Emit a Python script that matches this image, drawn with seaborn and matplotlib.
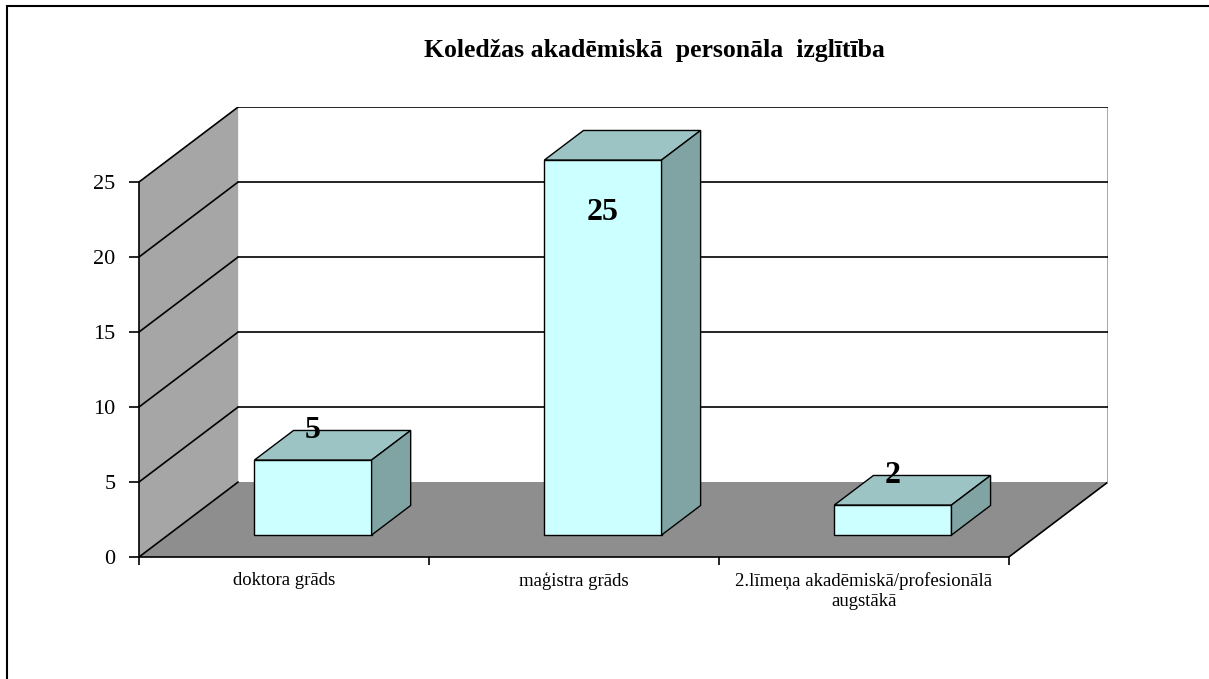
import numpy as np
import pandas as pd
import matplotlib
matplotlib.use('Agg')
import matplotlib.pyplot as plt
import matplotlib.transforms as mtransforms
from matplotlib.patches import Polygon, Rectangle
import seaborn as sns

# data
categories = ['doktora grāds', 'maģistra grāds',
              '2.līmeņa akadēmiskā/profesionālā\naugstākā']
values = [5, 25, 2]
y_ticks = [0, 5, 10, 15, 20, 25]
title = 'Koledžas akadēmiskā  personāla  izglītība'

# fake 3D geometry (data units)
DX, DY = 0.342, 5.0      # full depth of floor / side wall
FRONT = 0.293            # bar front position along the depth
DEPTH = 0.394            # bar depth as share of full depth
BAR_W = 0.404

FRONT_C = '#ccffff'
TOP_C = '#9cc4c4'
SIDE_C = '#80a4a4'
FLOOR_C = '#8e8e8e'
WALL_C = '#a6a6a6'

W, H = 1209, 679
sns.set_style('white')
plt.rcParams['font.family'] = ['Liberation Serif', 'DejaVu Serif']
plt.rcParams['text.color'] = 'black'
plt.rcParams['xtick.color'] = 'black'
plt.rcParams['ytick.color'] = 'black'

fig = plt.figure(figsize=(W / 100, H / 100), dpi=100)
ax = fig.add_axes([139 / W, 1 - 557 / H, (1108 - 139) / W, (557 - 107) / H])

df = pd.DataFrame({'kategorija': categories, 'skaits': values})
sns.barplot(data=df, x='kategorija', y='skaits', ax=ax, width=BAR_W,
            color=FRONT_C, saturation=1, edgecolor='black', linewidth=1,
            errorbar=None, zorder=3)

ymax = y_ticks[-1]
x0, x1 = -0.5, len(categories) - 0.5
ax.set_xlim(x0, x1 + DX)
ax.set_ylim(0, ymax + DY)

# side wall, floor, back wall edge
ax.add_patch(Polygon([(x0, 0), (x0 + DX, DY), (x0 + DX, ymax + DY), (x0, ymax)],
                     closed=True, fc=WALL_C, ec='none', zorder=0.5))
ax.add_patch(Polygon([(x0, 0), (x1, 0), (x1 + DX, DY), (x0 + DX, DY)],
                     closed=True, fc=FLOOR_C, ec='none', zorder=0.5))
ax.plot([x1, x1 + DX], [0, DY], color='black', lw=1.2, zorder=1)
ax.plot([x1 + DX, x1 + DX], [DY, ymax + DY], color='#a0a0a0', lw=2, zorder=1)
for v in y_ticks:
    ax.plot([x0, x0 + DX], [v, v + DY], color='black', lw=1.2, zorder=1)
    if v > 0:
        ax.plot([x0 + DX, x1 + DX], [v + DY, v + DY], color='black', lw=1.2, zorder=1)

# bars: push seaborn's fronts back, then add top and side faces
sx, sy = FRONT * DX, FRONT * DY
bx, by = DEPTH * DX, DEPTH * DY
shift = mtransforms.Affine2D().translate(sx, sy) + ax.transData
for bar, v in zip(ax.containers[0], values):
    bar.set_transform(shift)
    left = bar.get_x() + sx
    right = left + bar.get_width()
    base = bar.get_y() + sy
    top = base + bar.get_height()
    ax.add_patch(Polygon([(left, top), (left + bx, top + by), (right + bx, top + by), (right, top)],
                         closed=True, fc=TOP_C, ec='black', lw=1, zorder=3))
    ax.add_patch(Polygon([(right, base), (right + bx, base + by), (right + bx, top + by), (right, top)],
                         closed=True, fc=SIDE_C, ec='black', lw=1, zorder=3))
    label_y = top + 2 if top + 2 < ymax else top - 3.5
    ax.text((left + right) / 2, label_y, f'{v:g}', ha='center', va='center',
            fontsize=23, fontweight='bold', zorder=5)

# axes
for s in ['top', 'right']:
    ax.spines[s].set_visible(False)
for s in ['left', 'bottom']:
    ax.spines[s].set_color('black')
    ax.spines[s].set_linewidth(1.2)
ax.spines['left'].set_bounds(0, ymax)
ax.spines['bottom'].set_bounds(x0, x1)

ax.set_yticks(y_ticks)
ax.set_xticks(range(len(categories)))
ax.set_xticklabels(categories, fontsize=13.5)
ax.set_xticks(np.arange(len(categories) + 1) - 0.5, minor=True)
ax.tick_params(axis='x', which='major', bottom=True, length=0, pad=11)
ax.tick_params(axis='x', which='minor', bottom=True, length=6, width=1.2, direction='out')
ax.tick_params(axis='y', left=True, length=7, width=1.2, direction='out',
               labelsize=16, pad=10)
ax.set_xlabel('')
ax.set_ylabel('')
ax.grid(False)

fig.text(654 / W, 1 - 57 / H, title, ha='center', va='baseline',
         fontsize=18.5, fontweight='bold')

fig.add_artist(Rectangle((7 / W, -0.5), 2, 1.5 - 6 / H, transform=fig.transFigure,
                         fill=False, ec='black', lw=1.5))

fig.savefig('out.png', dpi=100)
